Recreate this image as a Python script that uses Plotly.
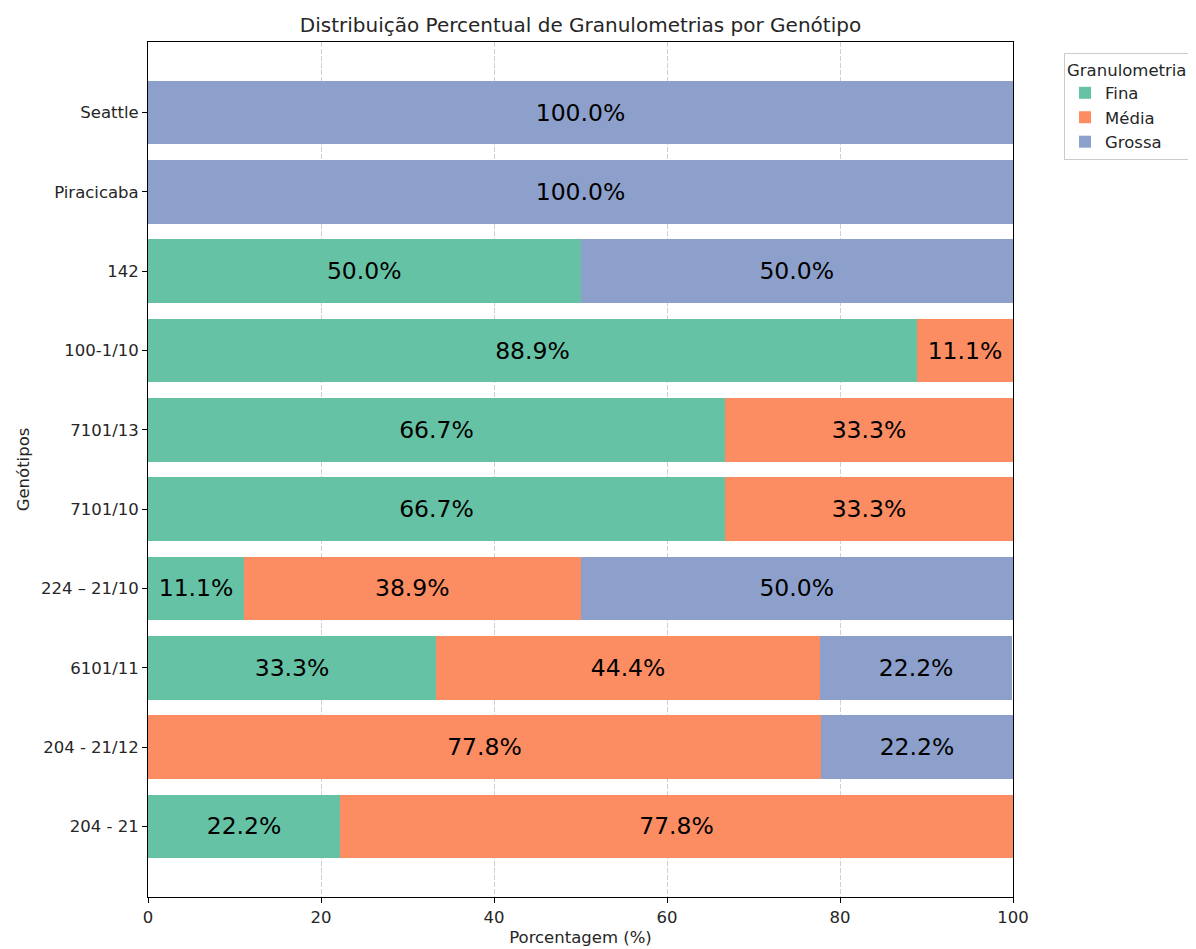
import plotly.graph_objects as go

genotipos = ["204 - 21", "204 - 21/12", "6101/11", "224 – 21/10", "7101/10",
             "7101/13", "100-1/10", "142", "Piracicaba", "Seattle"]
fina = [22.2, 0.0, 33.3, 11.1, 66.7, 66.7, 88.9, 50.0, 0.0, 0.0]
media = [77.8, 77.8, 44.4, 38.9, 33.3, 33.3, 11.1, 0.0, 0.0, 0.0]
grossa = [0.0, 22.2, 22.2, 50.0, 0.0, 0.0, 0.0, 50.0, 100.0, 100.0]
series_names = ["Fina", "Média", "Grossa"]
colors = ["#66c2a5", "#fc8d62", "#8da0cb"]
x_ticks = [0, 20, 40, 60, 80, 100]

FONT = "DejaVu Sans"
fig = go.Figure()
for name, vals, col in zip(series_names, [fina, media, grossa], colors):
    fig.add_trace(go.Bar(
        y=list(range(len(genotipos))), x=vals, name=name, orientation="h",
        marker=dict(color=col, line=dict(width=0)),
        text=[f"{v:.1f}%" if v > 0 else "" for v in vals],
        textposition="inside", insidetextanchor="middle", textangle=0,
        constraintext="none",
        textfont=dict(family=FONT, size=23.5, color="black"),
        width=0.8,
    ))

fig.update_layout(
    barmode="stack",
    width=1196, height=949,
    margin=dict(l=140, r=191, t=34, b=60),
    paper_bgcolor="white", plot_bgcolor="white",
    font=dict(family=FONT, size=16.5, color="#262626"),
    title=dict(text="Distribuição Percentual de Granulometrias por Genótipo",
               x=0.5, xref="paper", xanchor="center", y=1 - 17 / 949, yanchor="middle",
               font=dict(family=FONT, size=20, color="#262626")),
    legend=dict(title=dict(text="Granulometria", font=dict(size=16.5)),
                x=1.059, y=0.987, xanchor="left", yanchor="top",
                bordercolor="#cccccc", borderwidth=1, bgcolor="white",
                font=dict(size=16.5), traceorder="normal"),
    showlegend=True,
)
fig.update_xaxes(
    range=[0, 100], tickvals=x_ticks, ticktext=[str(t) for t in x_ticks],
    showgrid=True, gridcolor="rgba(176,176,176,0.6)", griddash="5px,2px", gridwidth=1,
    layer="above traces",
    showline=True, mirror=True, linecolor="black", linewidth=1,
    ticks="outside", ticklen=5, tickcolor="black",
    zeroline=False,
    title=dict(text="Porcentagem (%)", font=dict(size=16.5), standoff=5),
    tickfont=dict(size=16.5),
)
fig.update_yaxes(
    range=[-0.89, 9.89], tickvals=list(range(len(genotipos))), ticktext=genotipos,
    showgrid=False, zeroline=False,
    showline=True, mirror=True, linecolor="black", linewidth=1,
    ticks="outside", ticklen=5, tickcolor="black",
    title=dict(text="Genótipos", font=dict(size=16.5), standoff=7),
    tickfont=dict(size=16.5),
)

fig.write_html("out.html")
